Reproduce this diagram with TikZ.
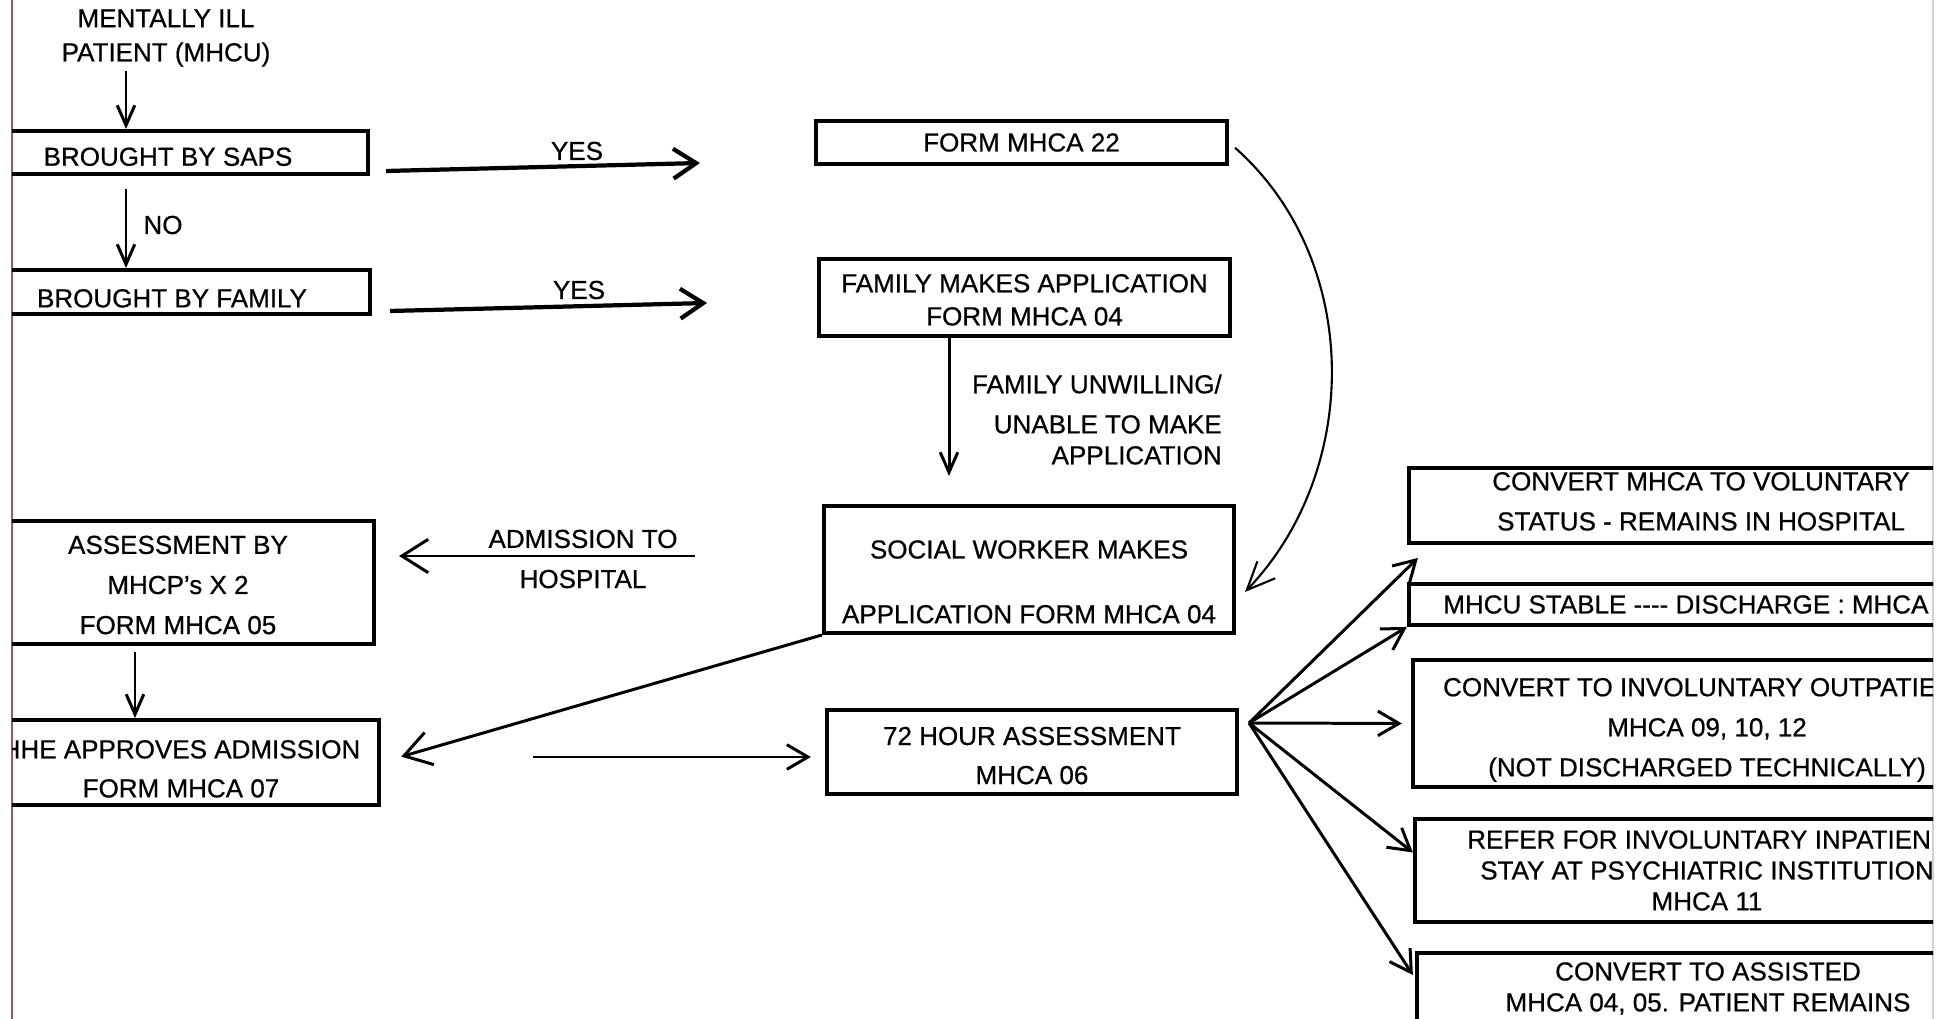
\documentclass[tikz,border=0pt]{standalone}
\usepackage{fontspec}
\setmainfont{Liberation Sans}[FakeBold=0.6]
\usetikzlibrary{arrows.meta}
\newcommand\flowfont{\fontsize{7.4}{8.8}\selectfont}
\newcommand\lowtext[1]{\rule{0pt}{#1}}
\newcommand\hightext[1]{\rule[-#1]{0pt}{#1}}
\definecolor{pageedge}{RGB}{150,92,92}
\tikzset{
  box/.style={draw, line width=1.1pt, inner sep=0pt, align=center, font=\flowfont},
  lbl/.style={inner sep=1pt, align=center, font=\flowfont},
  arr/.style={-{Straight Barb[length=6pt,width=7pt]}, line width=0.85pt},
  downarr/.style={arr, -{Straight Barb[length=5.7pt,width=5pt]}},
  yesarr/.style={-{Straight Barb[length=6.5pt,width=8.5pt]}, line width=1.2pt},
  bigarr/.style={arr, -{Straight Barb[length=7.5pt,width=9.5pt]}},
  curvearr/.style={-{Straight Barb[length=8pt,width=7pt]}, line width=0.6pt}
}
\begin{document}
\begin{tikzpicture}[x=0.01cm, y=-0.01cm]
  \useasboundingbox (0,0) rectangle (1954,1019);
  \fill[white] (0,0) rectangle (1954,1019);
  \draw[pageedge, line width=0.4pt] (12,0) -- (12,1019);
  \draw[black!18, line width=0.4pt] (1933,0) -- (1933,1019);
  \begin{scope}
    \clip (12,0) rectangle (1933,1019);
    \node[lbl] (patient) at (166,38) {MENTALLY ILL\\[0.9pt]PATIENT (MHCU)};
    \node[box, minimum width=4cm, minimum height=0.43cm] (saps) at (168,152.5) {\lowtext{7.6pt}BROUGHT BY SAPS};
    \node[box, minimum width=3.96cm, minimum height=0.44cm] (family) at (172,292) {\lowtext{8.8pt}BROUGHT BY FAMILY};
    \node[box, minimum width=4.11cm, minimum height=0.43cm] (mhca22) at (1021.5,142.5) {FORM MHCA 22};
    \node[box, minimum width=4.11cm, minimum height=0.77cm] (famapp) at (1024.5,297.5)
      {\lowtext{6.5pt}FAMILY MAKES APPLICATION\\[0.6pt]FORM MHCA 04};
    \node[box, minimum width=4.10cm, minimum height=1.27cm] (social) at (1029,569.5)
      {\lowtext{12.2pt}SOCIAL WORKER MAKES\\[9.6pt]APPLICATION FORM MHCA 04};
    \node[box, minimum width=3.92cm, minimum height=1.23cm] (assess) at (178,582.5)
      {\lowtext{6.6pt}ASSESSMENT BY\\[2.6pt]MHCP's X 2\\[2.6pt]FORM MHCA 05};
    \node[box, minimum width=3.96cm, minimum height=0.85cm] (hhe) at (181,762.5)
      {\lowtext{8.8pt}HHE APPROVES ADMISSION\\[2.3pt]FORM MHCA 07};
    \node[box, minimum width=4.10cm, minimum height=0.84cm] (hour) at (1032,752)
      {\lowtext{7.2pt}72 HOUR ASSESSMENT\\[2.3pt]MHCA 06};
    \node[box, minimum width=5.84cm, minimum height=0.75cm] (vol) at (1701,505.5)
      {CONVERT MHCA TO VOLUNTARY\\[2.6pt]STATUS - REMAINS IN HOSPITAL\hightext{2.4pt}};
    \node[box, minimum width=5.96cm, minimum height=0.41cm] (stable) at (1707,604.5)
      {MHCU STABLE -{}-{}-{}- DISCHARGE : MHCA\hspace{12pt}};
    \node[box, minimum width=5.88cm, minimum height=1.27cm] (outpat) at (1707,723.5)
      {\lowtext{8.8pt}CONVERT TO INVOLUNTARY OUTPATIE\phantom{NT}\\[2.6pt]MHCA 09, 10, 12\\[2.6pt](NOT DISCHARGED TECHNICALLY)};
    \node[box, minimum width=5.84cm, minimum height=1.03cm] (inpat) at (1707,870.5)
      {REFER FOR INVOLUNTARY INPATIEN\phantom{T}\\STAY AT PSYCHIATRIC INSTITUTION\\MHCA 11};
    \node[box, minimum width=5.82cm, minimum height=0.74cm] (assist) at (1708,990)
      {CONVERT TO ASSISTED\\MHCA 04, 05. PATIENT REMAINS\hightext{1.8pt}};

    \node[lbl] (no) at (163,225) {NO};
    \node[lbl] (yes1) at (577,151) {YES};
    \node[lbl] (yes2) at (579,290) {YES};
    \node[lbl, anchor=east, align=right] (unwilling) at (1226,419.5)
      {FAMILY UNWILLING/\\[2.6pt]UNABLE TO MAKE\\APPLICATION};
    \node[lbl] (admission) at (583,559) {ADMISSION TO\\[2.6pt]HOSPITAL};

    \coordinate (pin) at (126,0);
    \coordinate (dn) at (949,0);
    \coordinate (dntwo) at (135,0);
    \coordinate (yesones) at (386,171);
    \coordinate (yesonee) at (700,163);
    \coordinate (yestwos) at (390,311);
    \coordinate (yestwoe) at (707,303);
    \coordinate (admstart) at (695,556);
    \coordinate (hstart) at (533,757);
    \coordinate (swin) at (1245,592);
    \coordinate (fan) at ([shift={(10,-29)}]hour.east);

    \begin{scope}
      \draw[downarr] (patient.south -| pin) -- (saps.north -| pin);
      \draw[downarr, shorten <=0.13cm] (saps.south -| pin) -- (family.north -| pin);
      \draw[yesarr] (yesones) -- (yesonee);
      \draw[yesarr] (yestwos) -- (yestwoe);
      \draw[downarr, shorten >=0.28cm] (famapp.south -| dn) -- (social.north -| dn);
      \draw[curvearr, shorten <=0.08cm] (mhca22.east) .. controls (1362,260) and (1362,470) .. (swin);
      \draw[bigarr, shorten >=0.23cm] (admstart) -- (assess.east |- admstart);
      \draw[downarr, shorten <=0.06cm] (assess.south -| dntwo) -- (hhe.north -| dntwo);
      \draw[bigarr, shorten >=0.21cm] (social.south west) -- (hhe.east);
      \draw[arr, shorten >=0.14cm] (hstart) -- (hour.west |- hstart);
      \draw[arr] (fan) -- ([shift={(11,13)}]vol.south west);
      \draw[arr] (fan) -- (stable.south west);
      \draw[arr, shorten >=0.09cm] (fan) -- (outpat.west);
      \draw[arr] (fan) -- ([shift={(0,-18)}]inpat.west);
      \draw[arr] (fan) -- ([shift={(-2,24)}]assist.north west);
    \end{scope}
  \end{scope}
\end{tikzpicture}
\end{document}
